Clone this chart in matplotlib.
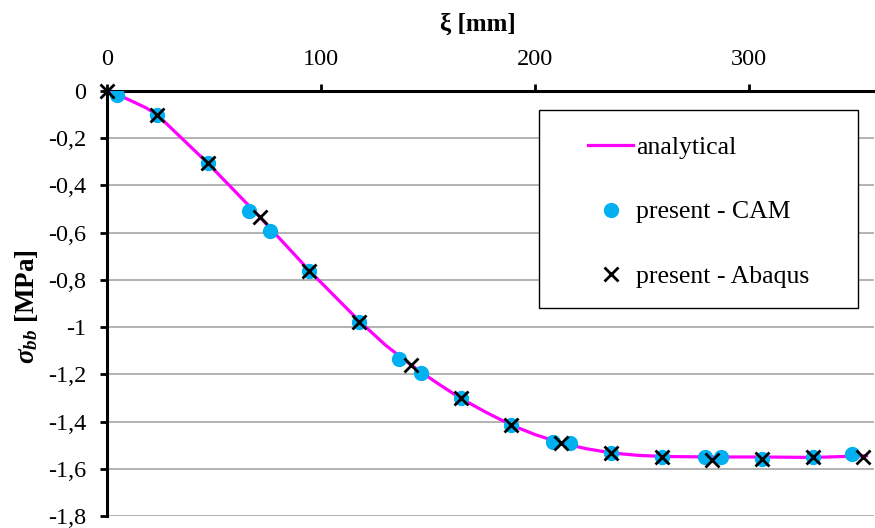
import numpy as np
import matplotlib
matplotlib.use("Agg")
import matplotlib.pyplot as plt
from matplotlib.ticker import FuncFormatter
from matplotlib.patches import Rectangle

plt.rcParams['font.family'] = ['Liberation Serif', 'DejaVu Serif']
plt.rcParams['mathtext.fontset'] = 'custom'
plt.rcParams['mathtext.it'] = 'Liberation Serif:italic:bold'
plt.rcParams['mathtext.rm'] = 'Liberation Serif:bold'

##### data #########

# analytical curve
xi_an = [0, 5, 18, 23.4, 47, 70, 95, 118, 130, 142, 154, 165, 177, 189, 200,
         212, 224, 236, 248, 260, 283, 306, 330, 355]
s_an = [0, -0.015, -0.07, -0.10, -0.305, -0.52, -0.765, -0.975, -1.075, -1.16,
        -1.235, -1.30, -1.36, -1.415, -1.455, -1.49, -1.515, -1.533, -1.543,
        -1.548, -1.55, -1.55, -1.552, -1.545]

# present - CAM
xi_cam = [4.8, 23.4, 47.0, 66.2, 76.0, 94.6, 118.0, 136.6, 146.6, 165.3, 188.8,
          208.5, 216.3, 235.7, 259.5, 279.3, 287.1, 306.2, 329.8, 348.2]
s_cam = [-0.018, -0.102, -0.307, -0.507, -0.592, -0.761, -0.977, -1.136, -1.196,
         -1.301, -1.414, -1.485, -1.492, -1.534, -1.551, -1.548, -1.548, -1.558,
         -1.551, -1.537]

# present - Abaqus
xi_abq = [0, 23.4, 47.0, 71.3, 94.6, 118.0, 142.0, 165.3, 188.8, 212.4, 235.7,
          259.5, 282.9, 306.2, 329.8, 353.2]
s_abq = [0, -0.102, -0.307, -0.533, -0.761, -0.977, -1.160, -1.301, -1.414,
         -1.492, -1.534, -1.551, -1.562, -1.558, -1.551, -1.551]

yticks = np.round(np.arange(0, -1.81, -0.2), 1)
xticks = [0, 100, 200, 300]

###################

W, H = 875, 528
fig = plt.figure(figsize=(W / 100, H / 100), dpi=100)
ax = fig.add_axes([107 / W, 1 - 516 / H, (W - 1 - 107) / W, (516 - 91) / H])

ax.plot(xi_an, s_an, color='#ff00ff', lw=2.3, label='analytical', zorder=3)
ax.plot(xi_cam, s_cam, 'o', color='#00b0f0', ms=11, mec='none',
        label='present - CAM', zorder=4)
ax.plot(xi_abq, s_abq, 'x', color='black', ms=10, mew=2.0,
        label='present - Abaqus', zorder=5, clip_on=False)

ax.set_xlim(0, 358.5)
ax.set_ylim(-1.8, 0)
ax.set_yticks(yticks)
ax.set_xticks(xticks)
ax.yaxis.set_major_formatter(FuncFormatter(
    lambda v, p: f"{v:g}".replace('.', ',') if abs(v) > 1e-9 else "0"))

ax.xaxis.tick_top()
ax.spines['bottom'].set_visible(False)
ax.spines['right'].set_visible(False)
for s in ['top', 'left']:
    ax.spines[s].set_linewidth(2.2)
ax.tick_params(axis='both', labelsize=17.5, length=5, width=2.0, pad=10,
               direction='out')
ax.grid(axis='y', color='#a6a6a6', lw=1.2)
ax.set_axisbelow(True)

fig.text(478 / W, 1 - 24 / H, 'ξ [mm]', ha='center', va='center',
         fontsize=18, fontweight='bold')
fig.text(27 / W, 1 - 307 / H, r'$\sigma_{bb}$ [MPa]', ha='center',
         va='center', rotation=90, fontsize=19.5, fontweight='bold')

# legend box
box = Rectangle((539 / W, 1 - 308 / H), (858 - 539) / W, (308 - 110) / H,
                transform=fig.transFigure, facecolor='white',
                edgecolor='black', lw=1.0, zorder=6)
fig.add_artist(box)
leg = fig.legend(loc='center', bbox_to_anchor=(698.5 / W, 1 - 212 / H),
                 frameon=False, fontsize=18.5, handlelength=1.75,
                 handletextpad=0.1, labelspacing=1.62)
leg.set_zorder(7)

fig.savefig('out.png', dpi=100)
